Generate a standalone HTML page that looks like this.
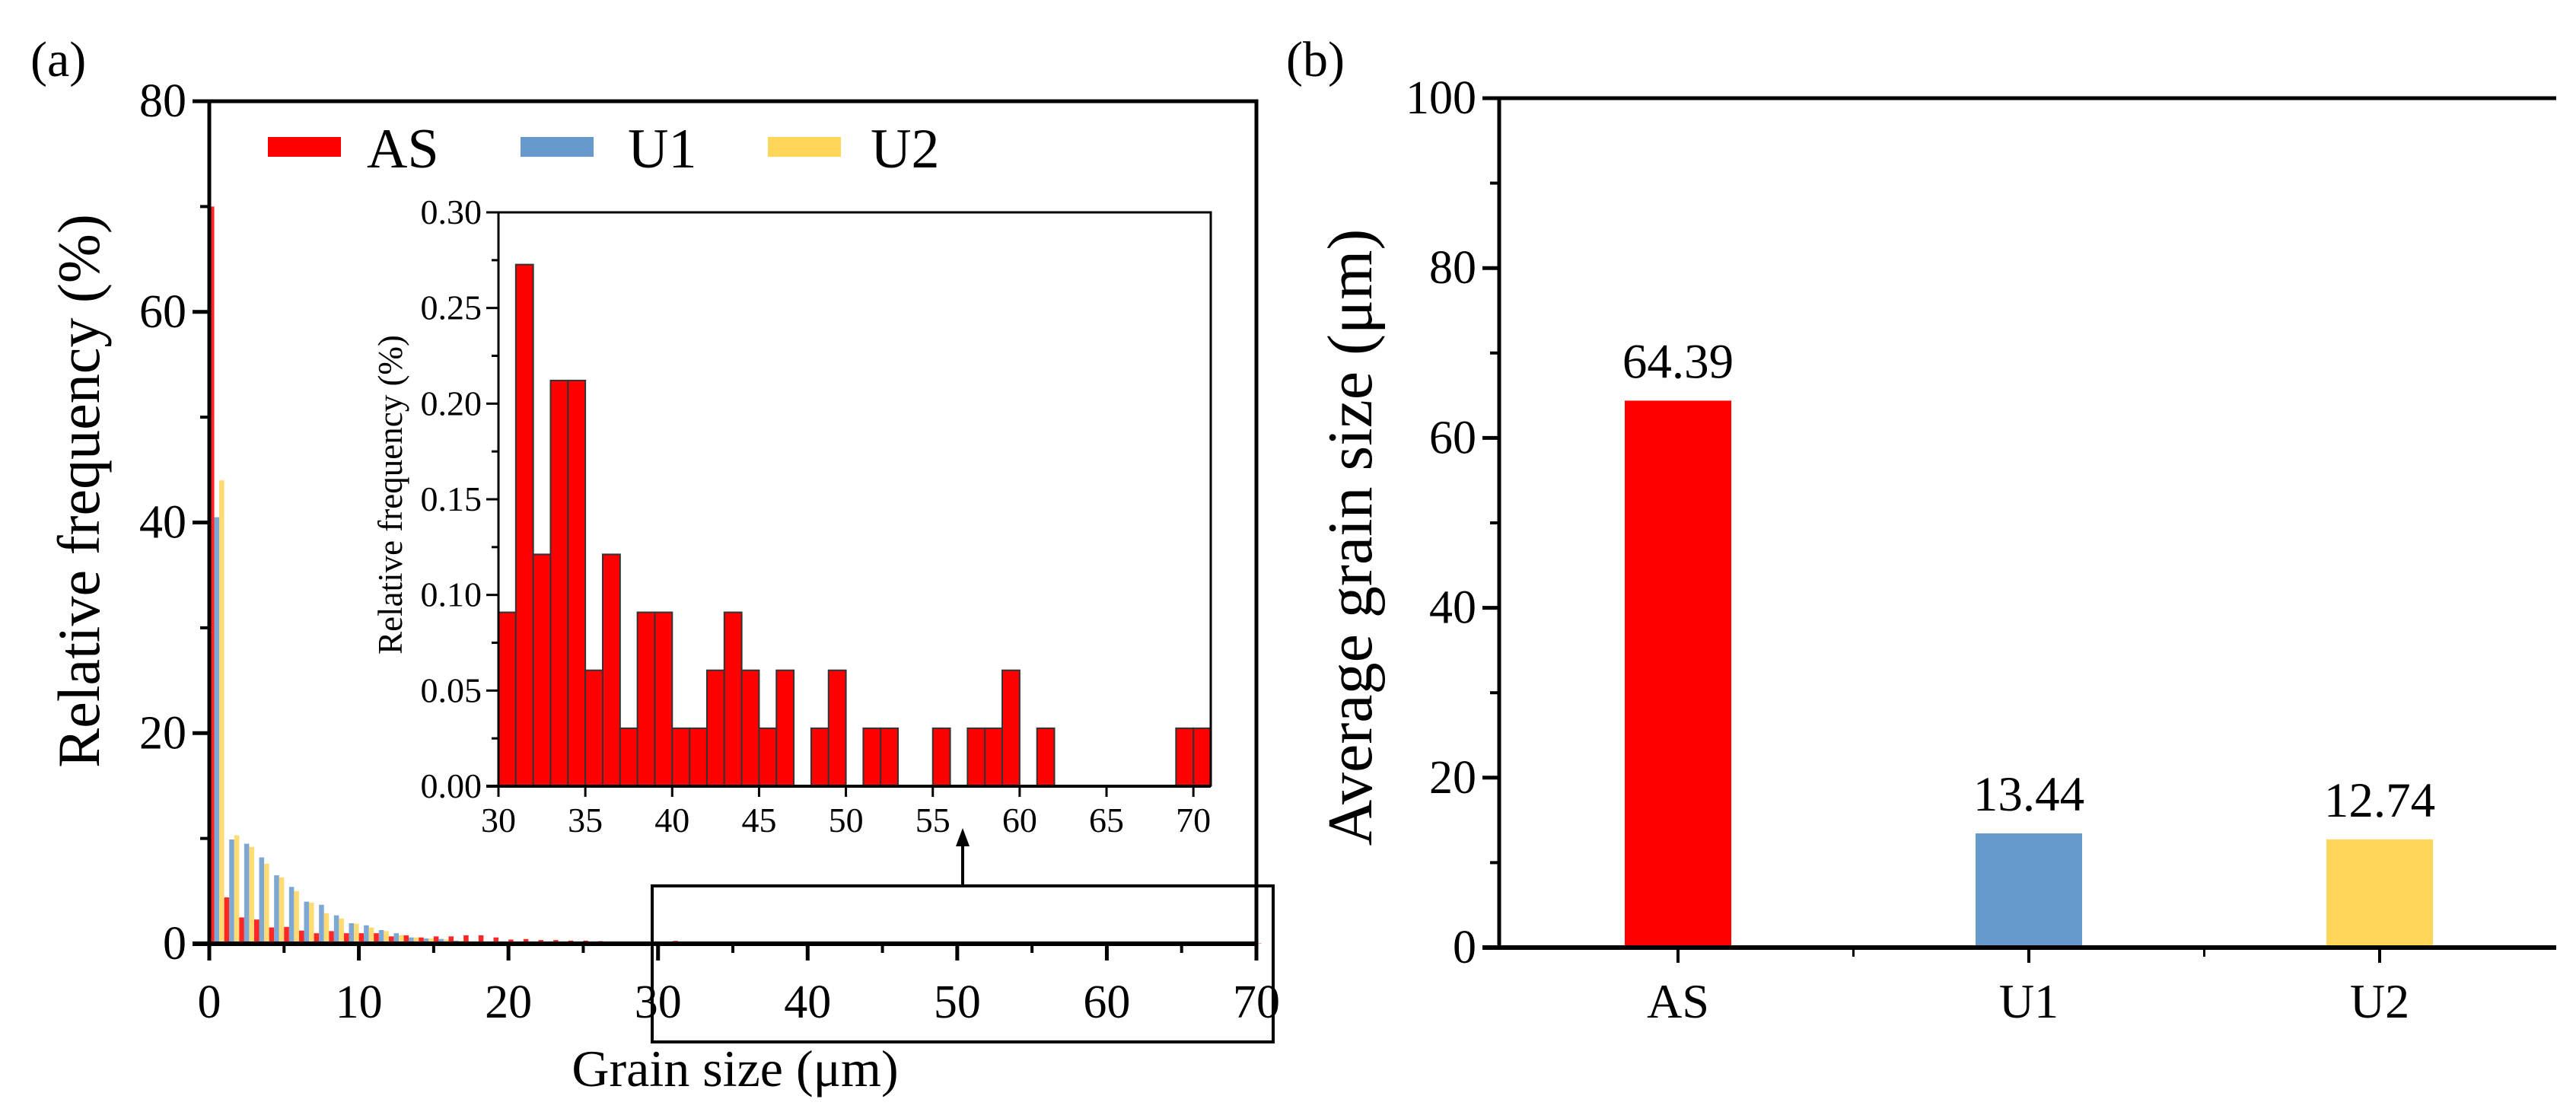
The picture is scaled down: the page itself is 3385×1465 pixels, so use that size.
<!DOCTYPE html>
<html><head><meta charset="utf-8"><style>
html,body{margin:0;padding:0;background:#fff;}
svg{display:block;}
svg text{font-family:"Liberation Serif","DejaVu Serif",serif;}
</style></head><body>
<svg id="fig" width="3385" height="1465" viewBox="0 0 3385 1465" xmlns="http://www.w3.org/2000/svg" font-family="Liberation Serif, serif"></svg>
<script>
// ---- Panel (a) data ----
const mainBins = [0,1,2,3,4,5,6,7,8,9,10,11,12,13,14,15,16,17,18,19,20,21,22,23,24,25,26,27,28,29];
const asMain = [70,4.4,2.5,2.3,1.55,1.6,1.25,1.0,1.2,1.0,1.0,1.0,0.7,0.8,0.6,0.7,0.7,0.8,0.8,0.6,0.4,0.45,0.35,0.35,0.3,0.3,0.25,0.2,0.2,0.15];
const u1Main = [40.5,9.9,9.5,8.2,6.5,5.4,4.0,3.7,2.7,1.95,1.75,1.3,1.0,0.6,0.5,0.45,0.3,0.2,0.1,0.05,0.03,0.02,0.01,0,0,0,0,0,0,0];
const u2Main = [44,10.3,9.2,7.6,6.3,5.0,3.9,2.9,2.4,1.9,1.55,1.2,0.8,0.6,0.5,0.4,0.3,0.2,0.1,0.05,0.03,0.02,0.01,0,0,0,0,0,0,0];
const mainXTicks = ["0","10","20","30","40","50","60","70"];
const mainYTicks = ["0","20","40","60","80"];
// inset (AS, 30–71 µm)
const insetBins = [30,31,32,33,34,35,36,37,38,39,40,41,42,43,44,45,46,47,48,49,50,51,52,53,54,55,56,57,58,59,60,61,62,63,64,65,66,67,68,69,70];
const insetVals = [0.0909,0.2727,0.1212,0.2121,0.2121,0.0606,0.1212,0.0303,0.0909,0.0909,0.0303,0.0303,0.0606,0.0909,0.0606,0.0303,0.0606,0,0.0303,0.0606,0,0.0303,0.0303,0,0,0.0303,0,0.0303,0.0303,0.0606,0,0.0303,0,0,0,0,0,0,0,0.0303,0.0303];
const insetXTicks = ["30","35","40","45","50","55","60","65","70"];
const insetYTicks = ["0.00","0.05","0.10","0.15","0.20","0.25","0.30"];
// ---- Panel (b) data ----
const bCats = ["AS","U1","U2"];
const bVals = [64.39,13.44,12.74];
const bLabels = ["64.39","13.44","12.74"];
const bYTicks = ["0","20","40","60","80","100"];

const NS="http://www.w3.org/2000/svg";
const svg=document.getElementById('fig');
function mk(tag,attrs,parent){const e=document.createElementNS(NS,tag);for(const k in attrs)e.setAttribute(k,attrs[k]);(parent||svg).appendChild(e);return e;}
function txt(s,attrs,parent){attrs['font-family']='Liberation Serif, serif';const e=mk('text',attrs,parent);e.textContent=s;return e;}
const RED="#ff0000",BLUE="#6699cc",YEL="#ffd55a";

// ===== Panel A =====
const A={x0:275,x1:1651,y0:1240,y1:133,xmin:0,xmax:70,ymax:80};
const ax=v=>A.x0+(v-A.xmin)/(A.xmax-A.xmin)*(A.x1-A.x0);
const ay=v=>A.y0-v/A.ymax*(A.y0-A.y1);
const gA=mk('g',{});


const lab=txt('(a)',{x:40,y:100,'font-size':66},gA);


const series=[[asMain,RED,'as'],[u1Main,BLUE,'u1'],[u2Main,YEL,'u2']];
const bw=(ax(1)-ax(0))/3;
mainBins.forEach((b,i)=>{
  series.forEach((s,k)=>{
    const v=s[0][i]; if(!v) return;
    const r=mk('rect',{x:ax(b)+k*bw,y:ay(v),width:bw,height:A.y0-ay(v),fill:s[1],opacity:0.85},gA);
    
    
  });
});
insetBins.forEach((b,i)=>{
  if(b<30) return; const v=insetVals[i]; if(!v) return;
  const r=mk('rect',{x:ax(b),y:ay(v),width:bw,height:A.y0-ay(v),fill:RED,opacity:0.85},gA);
  
  
});
mk('path',{d:`M${A.x0-22},${A.y1} H${A.x1} V${A.y0} M${A.x0},${A.y1} V${A.y0+2}`,stroke:'#000','stroke-width':5,fill:'none'},gA);
mk('line',{x1:A.x0-22,y1:A.y0,x2:A.x1,y2:A.y0,stroke:'#000','stroke-width':6},gA);
mainYTicks.forEach(t=>{const v=+t,y=ay(v);
  mk('line',{x1:A.x0-22,y1:y,x2:A.x0,y2:y,stroke:'#000','stroke-width':5},gA);
  const e=txt(t,{x:A.x0-30,y:y+20,'font-size':62,'text-anchor':'end'},gA);
  
  if(v<A.ymax) mk('line',{x1:A.x0-12,y1:ay(v+10),x2:A.x0,y2:ay(v+10),stroke:'#000','stroke-width':4},gA);
});
mainXTicks.forEach(t=>{const v=+t,x=ax(v);
  mk('line',{x1:x,y1:A.y0,x2:x,y2:A.y0+22,stroke:'#000','stroke-width':5},gA);
  if(v<A.xmax) mk('line',{x1:ax(v+5),y1:A.y0,x2:ax(v+5),y2:A.y0+12,stroke:'#000','stroke-width':4},gA);
  const e=txt(t,{x:x,y:1337,'font-size':62,'text-anchor':'middle'},gA);
  
});
let e=txt('Relative frequency (%)',{x:0,y:0,'font-size':78,'text-anchor':'middle',transform:'translate(130,645) rotate(-90)'},gA);

e=txt('Grain size (μm)',{x:966,y:1427,'font-size':68,'text-anchor':'middle'},gA);

[[RED,'AS',352,482],[BLUE,'U1',684,825],[YEL,'U2',1009,1144]].forEach(l=>{
  const g=mk('g',{},gA);
  
  
  mk('rect',{x:l[2],y:180,width:96,height:26,fill:l[0]},g);
  txt(l[1],{x:l[3],y:220,'font-size':74},g);
});
e=mk('rect',{x:857,y:1164,width:816,height:205,fill:'none',stroke:'#000','stroke-width':4},gA);

mk('line',{x1:1265,y1:1164,x2:1265,y2:1110,stroke:'#000','stroke-width':4},gA);
e=mk('polygon',{points:'1265,1088 1256,1112 1274,1112',fill:'#000'},gA);


// ===== Inset =====
const I={x0:655,x1:1591,y0:1033,y1:279,xmin:30,xmax:71,ymax:0.30};
const ix=v=>I.x0+(v-I.xmin)/(I.xmax-I.xmin)*(I.x1-I.x0);
const iy=v=>I.y0-v/I.ymax*(I.y0-I.y1);
const gI=mk('g',{},gA);


mk('rect',{x:I.x0,y:I.y1,width:I.x1-I.x0,height:I.y0-I.y1,fill:'#fff'},gI);
insetBins.forEach((b,i)=>{const v=insetVals[i]; if(!v) return;
  const r=mk('rect',{x:ix(b),y:iy(v),width:ix(b+1)-ix(b),height:I.y0-iy(v),fill:RED,stroke:'#333','stroke-width':2},gI);
  
  
});
mk('path',{d:`M${I.x0-16},${I.y1} H${I.x1} V${I.y0} M${I.x0},${I.y1} V${I.y0}`,stroke:'#000','stroke-width':3,fill:'none'},gI);
mk('line',{x1:I.x0-16,y1:I.y0,x2:I.x1,y2:I.y0,stroke:'#000','stroke-width':4},gI);
insetYTicks.forEach(t=>{const v=+t,y=iy(v);
  mk('line',{x1:I.x0-16,y1:y,x2:I.x0,y2:y,stroke:'#000','stroke-width':3},gI);
  if(v<0.29) mk('line',{x1:I.x0-9,y1:iy(v+0.025),x2:I.x0,y2:iy(v+0.025),stroke:'#000','stroke-width':3},gI);
  const e=txt(t,{x:I.x0-22,y:y+15,'font-size':46,'text-anchor':'end'},gI);
  
});
insetXTicks.forEach(t=>{const v=+t,x=ix(v);
  mk('line',{x1:x,y1:I.y0,x2:x,y2:I.y0+14,stroke:'#000','stroke-width':3},gI);
  const e=txt(t,{x:x,y:1093,'font-size':46,'text-anchor':'middle'},gI);
  
});
e=txt('Relative frequency (%)',{x:0,y:0,'font-size':45,'text-anchor':'middle',transform:'translate(528,650) rotate(-90)'},gI);


// ===== Panel B =====
const B={x0:1970,x1:3359,y0:1245,y1:129,ymax:100};
const by=v=>B.y0-v/B.ymax*(B.y0-B.y1);
const gB=mk('g',{});


e=txt('(b)',{x:1690,y:100,'font-size':66},gB);

const bColors=[RED,BLUE,YEL];
const catStep=461, cat0=2205;
bCats.forEach((c,i)=>{
  const cx=cat0+catStep*i;
  const r=mk('rect',{x:cx-70,y:by(bVals[i]),width:140,height:B.y0-by(bVals[i]),fill:bColors[i]},gB);
  
  
  let t=txt(bLabels[i],{x:cx,y:by(bVals[i])-30,'font-size':65,'text-anchor':'middle'},gB);
  
  t=txt(c,{x:cx,y:1337,'font-size':64,'text-anchor':'middle'},gB);
  
  mk('line',{x1:cx,y1:B.y0,x2:cx,y2:B.y0+20,stroke:'#000','stroke-width':4},gB);
  if(i<2) mk('line',{x1:cx+catStep/2,y1:B.y0,x2:cx+catStep/2,y2:B.y0+12,stroke:'#000','stroke-width':3},gB);
});
mk('path',{d:`M${B.x0-22},${B.y1} H${B.x1} M${B.x0},${B.y1} V${B.y0+2}`,stroke:'#000','stroke-width':5,fill:'none'},gB);
mk('line',{x1:B.x0-22,y1:B.y0,x2:B.x1,y2:B.y0,stroke:'#000','stroke-width':6},gB);
bYTicks.forEach(t=>{const v=+t,y=by(v);
  mk('line',{x1:B.x0-22,y1:y,x2:B.x0,y2:y,stroke:'#000','stroke-width':5},gB);
  if(v<B.ymax) mk('line',{x1:B.x0-12,y1:by(v+10),x2:B.x0,y2:by(v+10),stroke:'#000','stroke-width':4},gB);
  const e=txt(t,{x:B.x0-30,y:y+20,'font-size':62,'text-anchor':'end'},gB);
  
});
e=txt('Average grain size (μm)',{x:0,y:0,'font-size':84,'text-anchor':'middle',transform:'translate(1802,706) rotate(-90)'},gB);

</script>
</body></html>
